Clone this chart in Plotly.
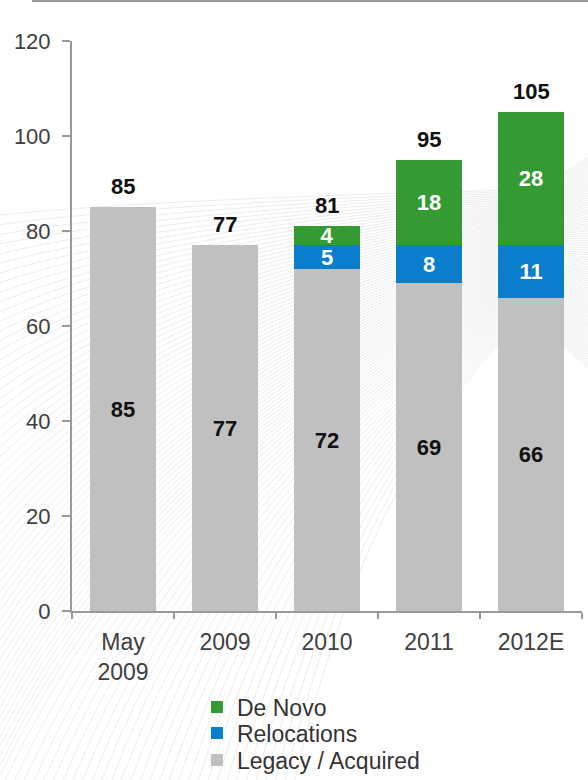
import plotly.graph_objects as go

categories = ["May<br>2009", "2009", "2010", "2011", "2012E"]
legacy = [85, 77, 72, 69, 66]
relocations = [0, 0, 5, 8, 11]
de_novo = [0, 0, 4, 18, 28]
totals = [85, 77, 81, 95, 105]

GRAY = "#c0c0c0"
BLUE = "#0a7dcc"
GREEN = "#349b34"
FONT = "Liberation Sans, Arial, sans-serif"
LABEL_SIZE = 22
AXIS_SIZE = 23

W, H = 588, 780
ML, MR, MT, MB = 72, 6, 41, 169
PW, PH = W - ML - MR, H - MT - MB


def seg_text(vals):
    return [str(v) if v else "" for v in vals]


def to_paper(px, py):
    return (px - ML) / PW, (H - MB - py) / PH


series = [
    ("Legacy / Acquired", legacy, GRAY, "#111111", "legend3"),
    ("Relocations", relocations, BLUE, "white", "legend2"),
    ("De Novo", de_novo, GREEN, "white", "legend"),
]

fig = go.Figure()
for name, vals, color, txtcolor, leg in series:
    fig.add_trace(go.Bar(
        x=categories, y=vals, name=name, legend=leg,
        marker=dict(color=color, line=dict(width=0)),
        text=seg_text(vals), textposition="inside", insidetextanchor="middle",
        textangle=0, constraintext="none",
        textfont=dict(family=FONT, size=LABEL_SIZE, color=txtcolor, weight="bold"),
    ))

# totals above each stack (category index keeps "2009" from being read as a number)
for i, t in enumerate(totals):
    fig.add_annotation(
        x=i, y=t, text=f"<b>{t}</b>", showarrow=False,
        yanchor="bottom", yshift=6,
        font=dict(family=FONT, size=LABEL_SIZE, color="#111111"),
    )

# faint swoosh texture in the slide background
shapes = []
n_lines = 90
for k in range(n_lines):
    t = k / (n_lines - 1)
    # start points run down the left edge, then along the bottom edge
    d = t * 860
    if d <= 565:
        sx, sy = 0, 215 + d
    else:
        sx, sy = d - 565, 780
    ex, ey = 520, 190 + 130 * t
    cx, cy = sx + (ex - sx) * 0.3, ey + (sy - ey) * 0.35
    p0, c0, p1 = to_paper(sx, sy), to_paper(cx, cy), to_paper(ex, ey)
    fx, fy = 600, 150 + 230 * t
    c1 = to_paper(560, ey + (fy - ey) * 0.3)
    p2 = to_paper(fx, fy)
    shapes.append(dict(
        type="path", xref="paper", yref="paper", layer="below",
        path=(f"M{p0[0]:.4f},{p0[1]:.4f} Q{c0[0]:.4f},{c0[1]:.4f} {p1[0]:.4f},{p1[1]:.4f} "
              f"Q{c1[0]:.4f},{c1[1]:.4f} {p2[0]:.4f},{p2[1]:.4f}"),
        line=dict(color="rgba(0,0,0,0.075)", width=1),
    ))

# rule across the top of the slide
x0, y0 = to_paper(32, 1)
x1, _ = to_paper(600, 1)
shapes.append(dict(type="line", xref="paper", yref="paper",
                   x0=x0, x1=x1, y0=y0, y1=y0,
                   line=dict(color="#9a9a9a", width=2)))

legend_style = dict(
    x=0.245, xanchor="left", yanchor="middle",
    bgcolor="rgba(0,0,0,0)", borderwidth=0,
    font=dict(family=FONT, size=AXIS_SIZE, color="#333333"),
    itemwidth=30,
)

fig.update_layout(
    width=W, height=H,
    margin=dict(l=ML, r=MR, t=MT, b=MB, autoexpand=False),
    barmode="stack", bargap=0.36,
    paper_bgcolor="white", plot_bgcolor="rgba(0,0,0,0)",
    font=dict(family=FONT, size=AXIS_SIZE, color="#404040"),
    showlegend=True,
    legend=dict(y=to_paper(0, 707)[1], **legend_style),
    legend2=dict(y=to_paper(0, 733)[1], **legend_style),
    legend3=dict(y=to_paper(0, 760)[1], **legend_style),
    shapes=shapes,
    xaxis=dict(
        range=[-0.5, 4.5], showgrid=False, showline=True,
        linecolor="#9a9a9a", linewidth=2, automargin=False,
        ticks="outside", ticklen=6, tickcolor="#9a9a9a", tickwidth=2,
        tickson="boundaries", ticklabelstandoff=9,
        tickfont=dict(family=FONT, size=AXIS_SIZE, color="#404040"),
        fixedrange=True,
    ),
    yaxis=dict(
        range=[0, 120], dtick=20, showgrid=False, showline=True,
        linecolor="#9a9a9a", linewidth=2, zeroline=False, automargin=False,
        ticks="outside", ticklen=8, tickcolor="#9a9a9a", tickwidth=2,
        ticklabelstandoff=7,
        tickfont=dict(family=FONT, size=22, color="#404040"),
        fixedrange=True,
    ),
)

fig.write_html("out.html")
